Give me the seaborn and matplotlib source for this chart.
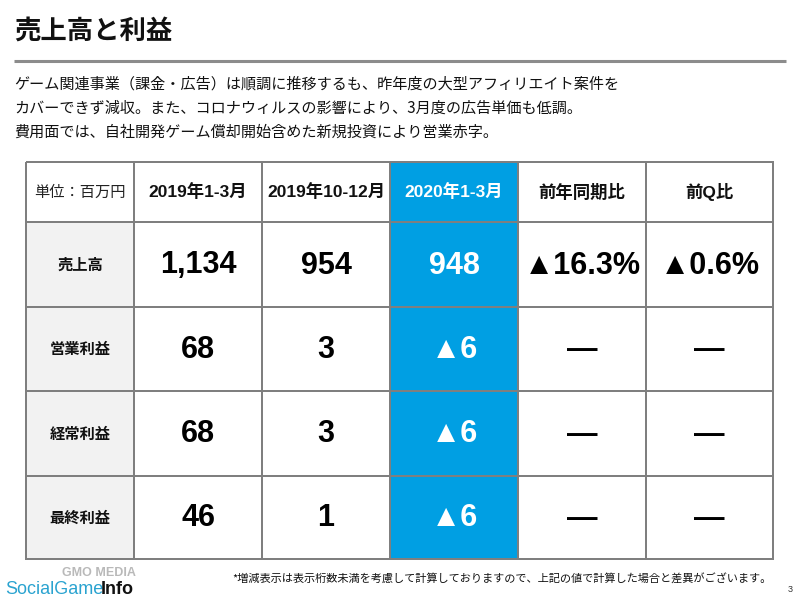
import matplotlib
matplotlib.use("Agg")
import matplotlib.pyplot as plt
import numpy as np
import seaborn as sns
from matplotlib.colors import ListedColormap

# data of the slide
title = "売上高と利益"
body_lines = [
    "ゲーム関連事業（課金・広告）は順調に推移するも、昨年度の大型アフィリエイト案件を",
    "カバーできず減収。また、コロナウィルスの影響により、3月度の広告単価も低調。",
    "費用面では、自社開発ゲーム償却開始含めた新規投資により営業赤字。",
]
unit_label = "単位：百万円"
col_labels = ["2019年1-3月", "2019年10-12月", "2020年1-3月", "前年同期比", "前Q比"]
row_labels = ["売上高", "営業利益", "経常利益", "最終利益"]
q1_2019 = ["1,134", "68", "68", "46"]
q4_2019 = ["954", "3", "3", "1"]
q1_2020 = ["948", "▲6", "▲6", "▲6"]
yoy = ["▲16.3%", "—", "—", "—"]
qoq = ["▲0.6%", "—", "—", "—"]
footnote = "*増減表示は表示桁数未満を考慮して計算しておりますので、上記の値で計算した場合と差異がございます。"

sns.set_theme(style="white")
plt.rcParams["font.family"] = ["Liberation Sans", "Noto Sans CJK JP", "DejaVu Sans"]
JP = ["Noto Sans CJK JP", "DejaVu Sans"]

BLUE = "#009FE3"
GRAY_CELL = "#F2F2F2"
LINE = "#7F7F7F"

fig = plt.figure(figsize=(8, 6), dpi=100)
ax = fig.add_axes([0, 0, 1, 1])
ax.set_xlim(0, 800)
ax.set_ylim(600, 0)
ax.axis("off")

# title and rule
ax.text(14, 31, title, fontsize=19, fontweight="bold", family=JP, va="center", color="#111111")
ax.plot([14, 786], [61, 61], color="#8C8C8C", lw=2.2, solid_capstyle="butt")
for i, line in enumerate(body_lines):
    ax.text(14, 84 + i * 24, line, fontsize=10.9, family=JP, va="center", color="#111111")

# table grid
x_edges = np.array([26, 134, 262, 390, 518, 646, 773])
y_edges = np.array([162, 222, 307, 391, 476, 559])
codes = np.zeros((5, 6))
codes[1:, 0] = 1
codes[:, 3] = 2
cmap = ListedColormap(["white", GRAY_CELL, BLUE])
ax.pcolormesh(x_edges, y_edges, codes, cmap=cmap, vmin=-0.5, vmax=2.5,
              edgecolors=LINE, linewidth=1.4)

xc = (x_edges[:-1] + x_edges[1:]) / 2
yc = (y_edges[:-1] + y_edges[1:]) / 2

ax.text(xc[0], yc[0], unit_label, fontsize=11, family=JP, ha="center", va="center", color="#222222")
for j, lab in enumerate(col_labels):
    col = "white" if j == 2 else "#111111"
    ax.text(xc[j + 1], yc[0], lab, fontsize=12.5, fontweight="bold", ha="center", va="center", color=col)

for i, lab in enumerate(row_labels):
    ax.text(xc[0], yc[i + 1], lab, fontsize=11, fontweight="bold", family=JP,
            ha="center", va="center", color="#111111")

columns = [q1_2019, q4_2019, q1_2020, yoy, qoq]
for j, vals in enumerate(columns):
    for i, v in enumerate(vals):
        col = "white" if j == 2 else "black"
        ax.text(xc[j + 1], yc[i + 1] + 1, v, fontsize=22, fontweight="bold",
                ha="center", va="center", color=col)

# footer
ax.text(232, 579, footnote, fontsize=8.05, family=JP, va="center", color="#111111")
ax.text(790, 590, "3", fontsize=6.5, ha="center", va="center", color="#333333")
ax.text(62, 573, "GMO MEDIA", fontsize=9, fontweight="bold", color="#A8A8A8", va="center", alpha=0.8)
ax.text(5, 590, "SocialGame", fontsize=13, color="#2AA3D0", va="center")
ax.text(101, 590, "Info", fontsize=13, fontweight="bold", color="#111111", va="center")

fig.savefig("out.png", dpi=100)
